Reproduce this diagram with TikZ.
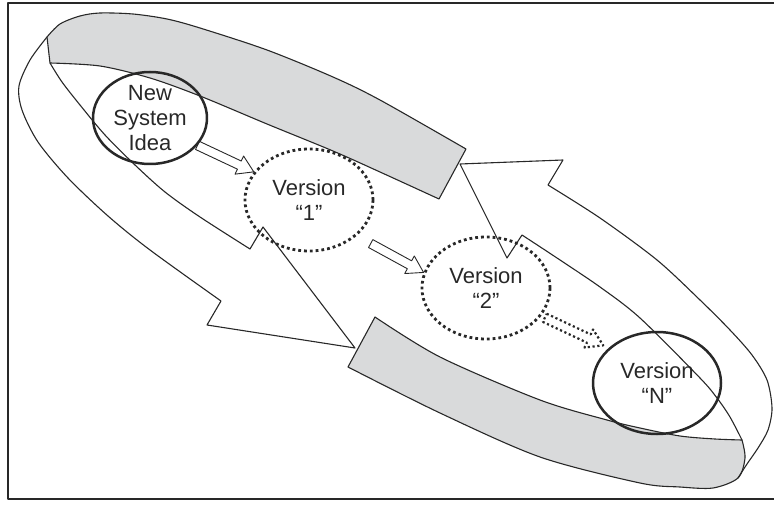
\documentclass[tikz,border=0pt]{standalone}
\usepackage{fontspec}
\setmainfont{Liberation Sans}
\usetikzlibrary{shapes.geometric,positioning,calc}
\definecolor{ink}{RGB}{40,40,40}
\definecolor{bandgray}{RGB}{217,218,219}

% hollow block arrow from #2 to #3
\newcommand\blockarrow[3][]{%
  \path #2 coordinate (ba-s) #3 coordinate (ba-t);
  \coordinate (ba-h) at ($(ba-t)!16pt!(ba-s)$);
  \draw[#1] ($(ba-s)!4.5pt!90:(ba-t)$) -- ($(ba-h)!4.5pt!90:(ba-t)$)
    -- ($(ba-h)!10pt!90:(ba-t)$) -- (ba-t)
    -- ($(ba-h)!10pt!-90:(ba-t)$) -- ($(ba-h)!4.5pt!-90:(ba-t)$)
    -- ($(ba-s)!4.5pt!-90:(ba-t)$) -- cycle;}

\begin{document}
\begin{tikzpicture}[x=1pt,y=-1pt,on grid,line join=round,
    band/.style={draw=ink,line width=1.1pt},
    startring/.style={ellipse,draw=ink,line width=2.5pt,minimum width=114pt,minimum height=92pt,inner sep=0pt},
    versionring/.style={ellipse,draw=ink,line width=2.5pt,minimum width=128pt,minimum height=102pt,inner sep=0pt},
    dotring/.style={line width=2.8pt,dash pattern=on 2.8pt off 3pt},
    ringtext/.style={align=center,font=\fontsize{22}{25}\selectfont,text=ink},
    hollow/.style={draw=ink,line width=0.9pt}]
\useasboundingbox (0,0) rectangle (774,505);
\draw[ink,line width=1.4pt] (774,3) -| (8,499) -- (774,499);

% upper grey band
\filldraw[band,fill=bandgray] plot[smooth] coordinates {(47,37) (60,24) (80,16) (100,13) (133,14) (167,19) (200,28) (267,50) (333,77) (380,100) (466,149)}
  -- (439,199) -- plot[smooth] coordinates {(439,199) (380,172) (333,151) (267,124) (200,96) (150,78) (100,66) (50,63)} -- cycle;
% left white band with its arrow head
\draw[band] plot[smooth] coordinates {(47,37) (30,60) (19,86) (22,110) (38,142) (68,178) (108,216) (150,250) (221,301)}
  -- (207,325) -- (355,348) -- (263,227)
  -- plot[smooth] coordinates {(250,249) (200,217) (165,192) (135,165) (105,135) (80,105) (62,82) (50,63)};
% lower grey band
\filldraw[band,fill=bandgray] plot[smooth] coordinates {(375,317) (440,357) (540,400) (607,420) (640,428) (680,436) (715,439) (742,440)}
  -- plot[smooth] coordinates {(742,440) (745,458) (738,478) (713,488) (680,487) (640,483) (540,457) (440,413) (348,367)} -- cycle;
% right white band with its arrow head
\draw[band] plot[smooth] coordinates {(738,478) (747,464) (758,448) (768,430) (772,408) (767,380) (752,355) (730,330) (700,300) (657,260) (600,218) (548,185)}
  -- (563,160) -- (460,164) -- (507,258)
  -- plot[smooth] coordinates {(522,235) (557,258) (600,287) (640,318) (700,378) (717,398) (730,417) (742,440)};

% the rings
\node[startring,label={[ringtext]center:New\\System\\Idea}] (idea) at (150,118) {};
\node[versionring,dotring,label={[ringtext]center:Version\\“1”}] (v1) [below right=82pt and 159pt of idea] {};
\node[versionring,dotring,label={[ringtext]center:Version\\“2”}] (v2) [below right=88pt and 177pt of v1] {};
\node[versionring,label={[ringtext]center:Version\\“N”}] (vn) [below right=95pt and 171pt of v2] {};

\blockarrow[hollow]{(idea.-30)}{(v1.153)}
\blockarrow[hollow]{($(v1.-37)!16pt!(v2.166)$)}{(v2.166)}
\blockarrow[hollow,line width=2.2pt,dash pattern=on 2.2pt off 2.6pt]{($(v2.-27)!4pt!(vn.144)$)}{($(vn.144)!6pt!(v2.-27)$)}
\end{tikzpicture}
\end{document}
